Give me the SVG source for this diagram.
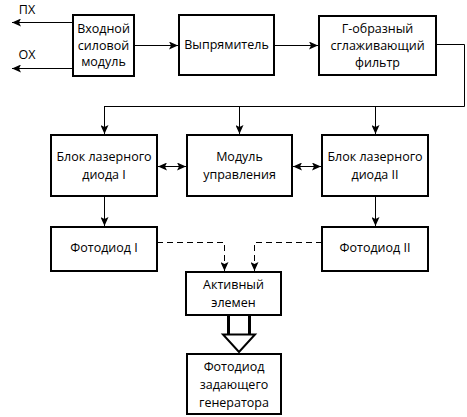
<svg xmlns="http://www.w3.org/2000/svg" width="467" height="417" viewBox="0 0 467 417">
<style>
.box{fill:#fff;stroke:#000;stroke-width:2}
.t{font-family:"Open Sans","DejaVu Sans",sans-serif;font-size:12.5px;fill:#000;text-anchor:middle}
.c{fill:none;stroke:#000;stroke-width:1}
.d{fill:none;stroke:#000;stroke-width:1;stroke-dasharray:6,4}
</style>
<defs>
<marker id="ah" markerUnits="userSpaceOnUse" markerWidth="9" markerHeight="8" refX="9" refY="4" orient="auto">
<path d="M0,0 L9,4 L0,8 L2,4 z" fill="#000"/>
</marker>
<marker id="ahs" markerUnits="userSpaceOnUse" markerWidth="9" markerHeight="8" refX="0" refY="4" orient="auto">
<path d="M9,0 L0,4 L9,8 L7,4 z" fill="#000"/>
</marker>
</defs>
<rect width="467" height="417" fill="#fff"/>
<g id="connectors">
<line class="c" x1="73" y1="22.5" x2="12" y2="22.5" marker-end="url(#ah)"/>
<line class="c" x1="73" y1="68.5" x2="12" y2="68.5" marker-end="url(#ah)"/>
<text class="t" x="27" y="14">ПХ</text>
<text class="t" x="27" y="59">ОХ</text>
<line class="c" x1="134" y1="45.5" x2="178" y2="45.5" marker-end="url(#ah)"/>
<line class="c" x1="274" y1="45.5" x2="318" y2="45.5" marker-end="url(#ah)"/>
<polyline class="c" points="436,44.5 464.5,44.5 464.5,106.5 104.5,106.5"/>
<line class="c" x1="104.5" y1="106" x2="104.5" y2="134" marker-end="url(#ah)"/>
<line class="c" x1="239.5" y1="106" x2="239.5" y2="134" marker-end="url(#ah)"/>
<line class="c" x1="375.5" y1="106" x2="375.5" y2="134" marker-end="url(#ah)"/>
<line class="c" x1="158" y1="166.5" x2="186" y2="166.5" marker-start="url(#ahs)" marker-end="url(#ah)"/>
<line class="c" x1="293" y1="166.5" x2="321" y2="166.5" marker-start="url(#ahs)" marker-end="url(#ah)"/>
<line class="c" x1="104.5" y1="196" x2="104.5" y2="226" marker-end="url(#ah)"/>
<line class="c" x1="375.5" y1="196" x2="375.5" y2="226" marker-end="url(#ah)"/>
<polyline class="d" points="157,242.5 224.5,242.5 224.5,271" marker-end="url(#ah)"/>
<polyline class="d" points="322,242.5 254.5,242.5 254.5,271" marker-end="url(#ah)"/>
<line x1="228.5" y1="315" x2="228.5" y2="335" stroke="#000" stroke-width="3"/>
<line x1="249.5" y1="315" x2="249.5" y2="335" stroke="#000" stroke-width="3"/>
<polygon points="223,334.5 255,334.5 239,352" fill="#fff" stroke="#000" stroke-width="2" stroke-linejoin="miter"/>
</g>
<g id="n1"><rect class="box" x="73" y="15" width="61" height="61"/>
<text class="t" x="103.5" y="33">Входной</text><text class="t" x="103.5" y="50">силовой</text><text class="t" x="103.5" y="66">модуль</text></g>
<g id="n2"><rect class="box" x="179" y="15" width="95" height="60"/>
<text class="t" x="226.5" y="49">Выпрямитель</text></g>
<g id="n3"><rect class="box" x="319" y="16" width="117" height="59"/>
<text class="t" x="377.5" y="33">Г-образный</text><text class="t" x="377.5" y="50">сглаживающий</text><text class="t" x="377.5" y="67">фильтр</text></g>
<g id="n4"><rect class="box" x="51" y="135" width="106" height="61"/>
<text class="t" x="104" y="161">Блок лазерного</text><text class="t" x="104" y="179">диода I</text></g>
<g id="n5"><rect class="box" x="187" y="135" width="105" height="61"/>
<text class="t" x="239.5" y="161">Модуль</text><text class="t" x="239.5" y="179">управления</text></g>
<g id="n6"><rect class="box" x="322" y="135" width="106" height="61"/>
<text class="t" x="375" y="161">Блок лазерного</text><text class="t" x="375" y="179">диода II</text></g>
<g id="n7"><rect class="box" x="51" y="227" width="106" height="44"/>
<text class="t" x="104" y="252">Фотодиод I</text></g>
<g id="n8"><rect class="box" x="322" y="227" width="106" height="44"/>
<text class="t" x="375" y="252">Фотодиод II</text></g>
<g id="n9"><rect class="box" x="186" y="272" width="95" height="43"/>
<text class="t" x="233.5" y="289">Активный</text><text class="t" x="233.5" y="307">элемен</text></g>
<g id="n10"><rect class="box" x="187" y="354" width="94" height="60"/>
<text class="t" x="234" y="371">Фотодиод</text><text class="t" x="234" y="389">задающего</text><text class="t" x="234" y="407">генератора</text></g>
</svg>
